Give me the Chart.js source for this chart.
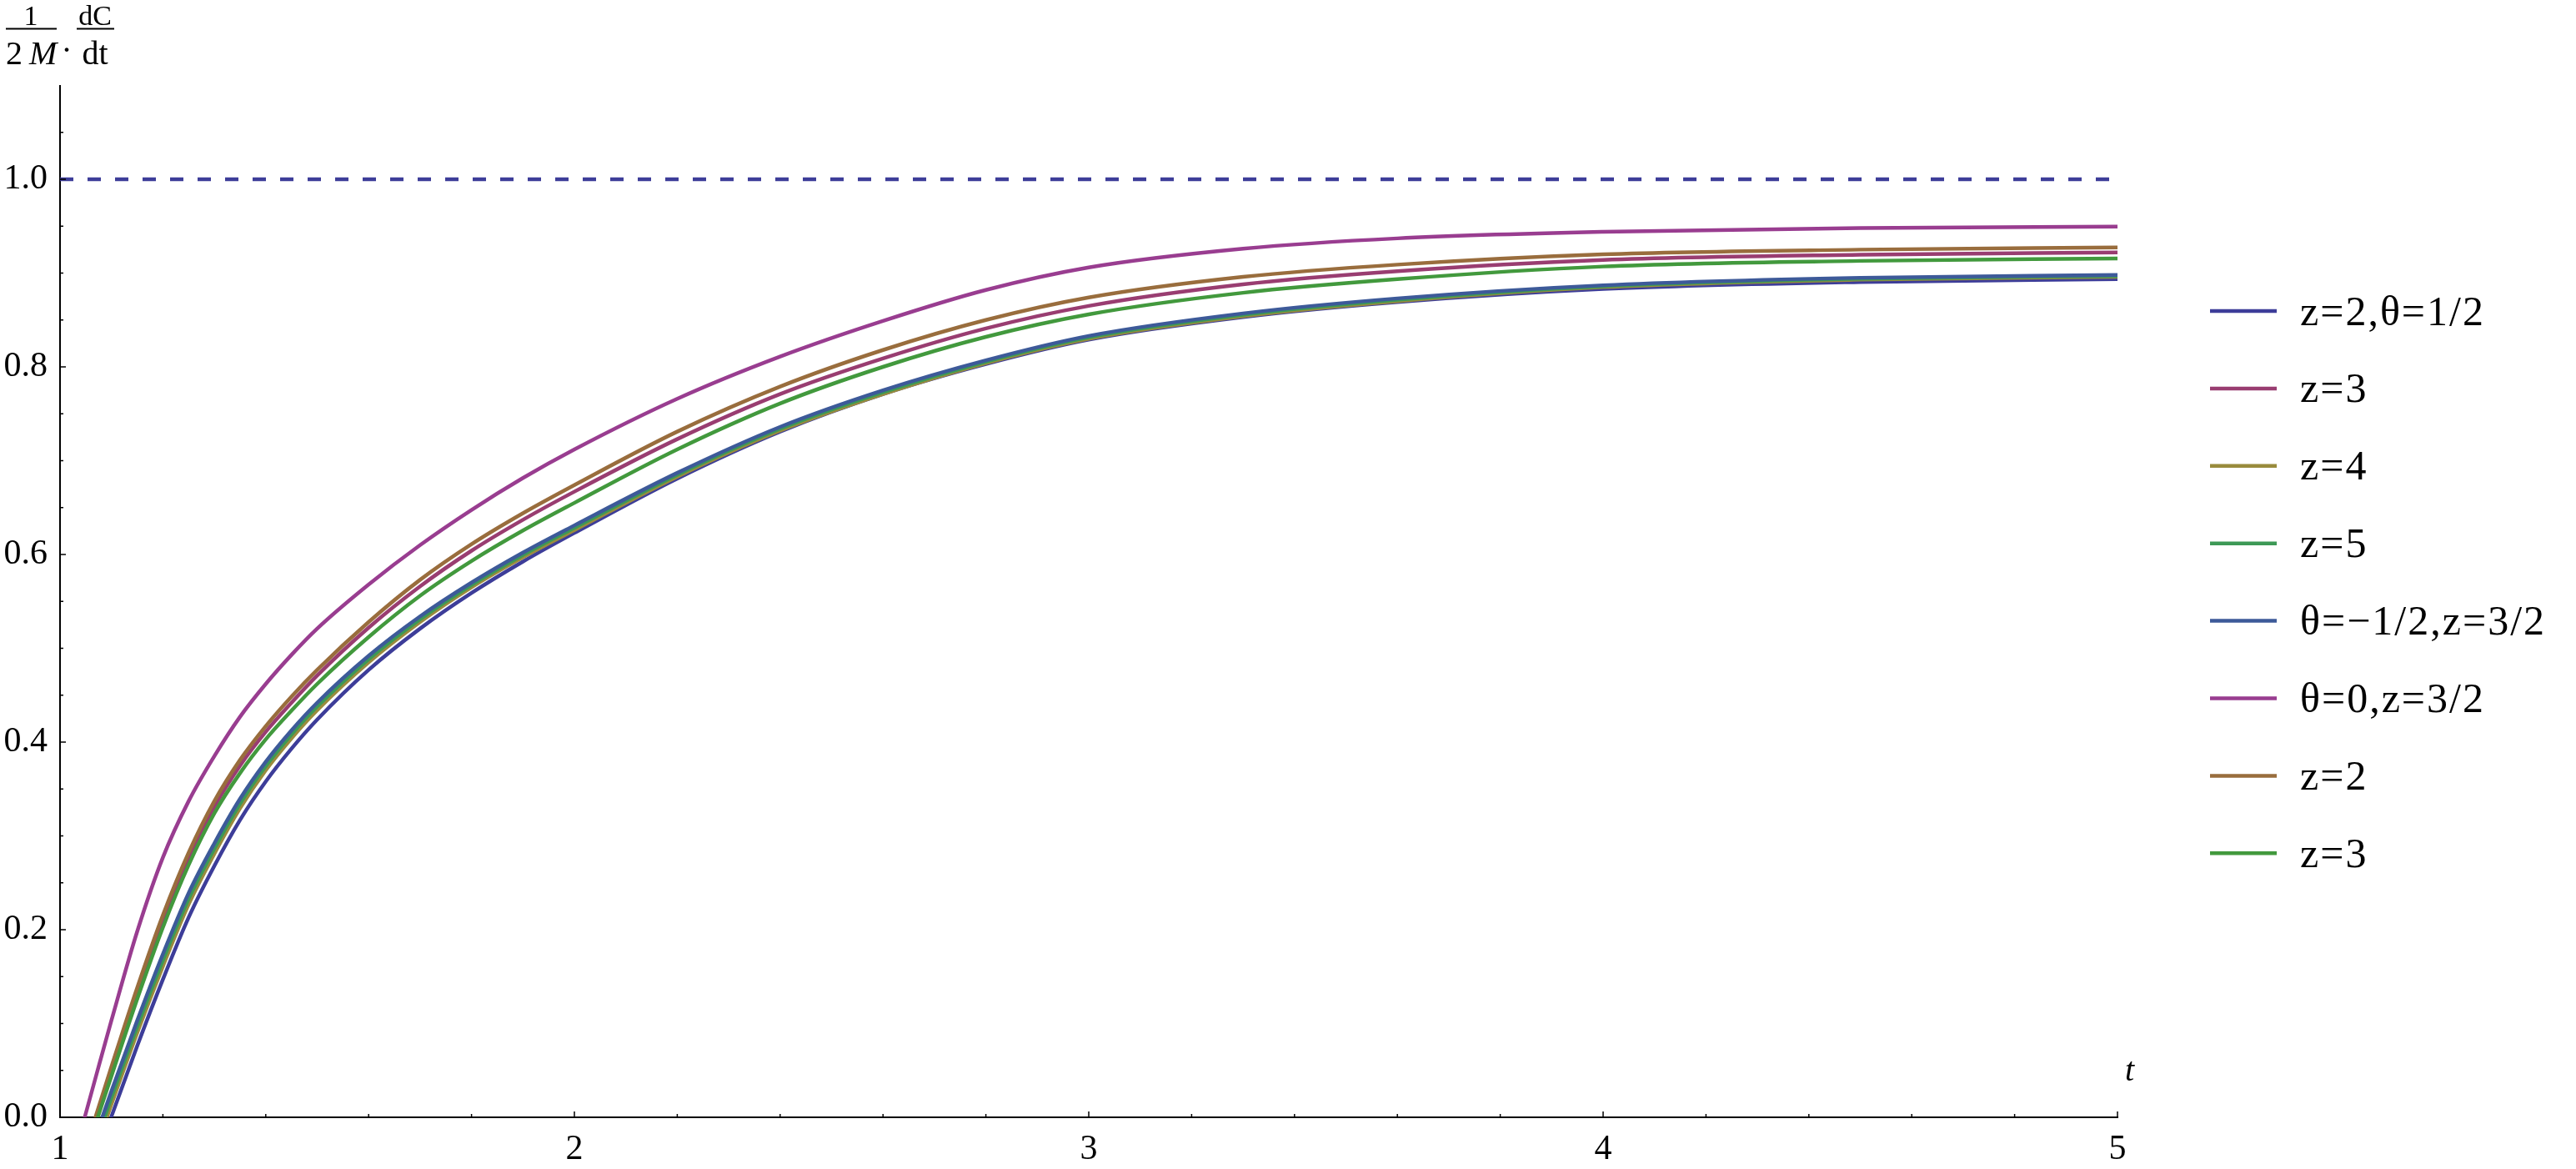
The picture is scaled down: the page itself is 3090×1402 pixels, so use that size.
<!DOCTYPE html>
<html>
<head>
<meta charset="utf-8">
<script src="https://cdn.jsdelivr.net/npm/chart.js@4.4.1/dist/chart.umd.min.js"></script>
<style>
  html, body { margin: 0; padding: 0; background: #fff; }
  #wrap { width: 3090px; height: 1402px; }
</style>
</head>
<body>
<div id="wrap"><canvas id="chart" width="3090" height="1402"></canvas></div>
<script>
// 時間格點 (t)
const T = [1.04, 1.07, 1.1, 1.15, 1.2, 1.25, 1.3, 1.35, 1.4, 1.45, 1.5, 1.6, 1.7, 1.8, 1.9, 2.0, 2.2, 2.4, 2.6, 2.8, 3.0, 3.3, 3.6, 4.0, 4.5, 5.0];

// 各曲線 (1/2M)·dC/dt，負值部分會被繪圖區裁掉
const S_Z2_TH12 = [-0.094, -0.046, 0.001, 0.076, 0.147, 0.213, 0.268, 0.317, 0.358, 0.393, 0.424, 0.477, 0.521, 0.559, 0.5925, 0.623, 0.681, 0.731, 0.771, 0.803, 0.829, 0.853, 0.869, 0.883, 0.8905, 0.8935];
const S_Z3 = [-0.057, -0.003, 0.049, 0.132, 0.2095, 0.276, 0.331, 0.375, 0.411, 0.442, 0.471, 0.522, 0.566, 0.604, 0.637, 0.667, 0.723, 0.771, 0.809, 0.841, 0.865, 0.888, 0.902, 0.914, 0.9195, 0.922];
const S_Z4 = [-0.081, -0.033, 0.014, 0.090, 0.161, 0.227, 0.281, 0.3295, 0.370, 0.404, 0.434, 0.485, 0.528, 0.565, 0.597, 0.626, 0.683, 0.732, 0.771, 0.804, 0.830, 0.854, 0.870, 0.885, 0.893, 0.896];
const S_Z5 = [-0.074, -0.026, 0.021, 0.0965, 0.1675, 0.233, 0.2865, 0.3345, 0.3745, 0.40825, 0.438, 0.4885, 0.531, 0.5675, 0.5995, 0.6285, 0.685, 0.734, 0.773, 0.8055, 0.8315, 0.8555, 0.8715, 0.886, 0.894, 0.897];
const S_THM12 = [-0.067, -0.019, 0.028, 0.103, 0.174, 0.239, 0.292, 0.3395, 0.379, 0.4125, 0.442, 0.492, 0.534, 0.570, 0.602, 0.631, 0.687, 0.736, 0.775, 0.807, 0.833, 0.857, 0.873, 0.887, 0.895, 0.898];
const S_TH0 = [-0.016, 0.044, 0.1034, 0.198, 0.277, 0.337, 0.385, 0.427, 0.462, 0.493, 0.521, 0.568, 0.610, 0.6475, 0.6815, 0.712, 0.766, 0.811, 0.849, 0.882, 0.906, 0.926, 0.937, 0.944, 0.948, 0.9496];
const S_B_Z2 = [-0.052, 0.002, 0.054, 0.138, 0.2155, 0.282, 0.337, 0.381, 0.417, 0.4485, 0.477, 0.528, 0.573, 0.611, 0.644, 0.674, 0.731, 0.779, 0.818, 0.850, 0.874, 0.896, 0.909, 0.920, 0.925, 0.9274];
const S_B_Z3 = [-0.060, -0.006, 0.044, 0.126, 0.2025, 0.269, 0.324, 0.367, 0.403, 0.4335, 0.462, 0.512, 0.556, 0.593, 0.6255, 0.655, 0.712, 0.761, 0.800, 0.832, 0.856, 0.879, 0.8935, 0.907, 0.913, 0.9156];

const SERIES = [S_Z2_TH12, S_Z3, S_Z4, S_Z5, S_THM12, S_TH0, S_B_Z2, S_B_Z3];
const LABELS = ['z=2,θ=1/2', 'z=3', 'z=4', 'z=5', 'θ=−1/2,z=3/2', 'θ=0,z=3/2', 'z=2', 'z=3'];
const COLORS = ['#3d3d99', '#993d71', '#998b3d', '#3d9956', '#3d5a99', '#993d90', '#996d3d', '#42993d'];

// 漸近線
const REF_LEVEL = 1.0;
const REF_COLOR = '#3d3d99';

// 座標軸刻度
const X_MIN = 1, X_MAX = 5;
const Y_MIN = 0, Y_MAX = 1.1;
const X_TICKS = [1, 2, 3, 4, 5];
const Y_TICKS = [0, 0.2, 0.4, 0.6, 0.8, 1.0];
const X_MINOR = [1.2, 1.4, 1.6, 1.8, 2.2, 2.4, 2.6, 2.8, 3.2, 3.4, 3.6, 3.8, 4.2, 4.4, 4.6, 4.8];
const Y_MINOR = [0.05, 0.1, 0.15, 0.25, 0.3, 0.35, 0.45, 0.5, 0.55, 0.65, 0.7, 0.75, 0.85, 0.9, 0.95, 1.05];

const SERIF = '"Liberation Serif", "Times New Roman", serif';

// 向內的主/次刻度
const innerTicks = {
  id: 'innerTicks',
  afterDatasetsDraw(chart) {
    const { ctx, chartArea } = chart;
    const { x, y } = chart.scales;
    ctx.save();
    ctx.strokeStyle = '#000';
    ctx.lineWidth = 1.5;
    const tick = (x0, y0, x1, y1) => {
      ctx.beginPath();
      ctx.moveTo(x0, y0);
      ctx.lineTo(x1, y1);
      ctx.stroke();
    };
    X_TICKS.forEach(v => { const p = x.getPixelForValue(v); tick(p, chartArea.bottom, p, chartArea.bottom - 7); });
    X_MINOR.forEach(v => { const p = x.getPixelForValue(v); tick(p, chartArea.bottom, p, chartArea.bottom - 4); });
    Y_TICKS.forEach(v => { const p = y.getPixelForValue(v); tick(chartArea.left, p, chartArea.left + 7, p); });
    Y_MINOR.forEach(v => { const p = y.getPixelForValue(v); tick(chartArea.left, p, chartArea.left + 4, p); });
    ctx.restore();
  }
};

// 軸標題：1/(2M) . dC/dt 以及 t
const axisTitles = {
  id: 'axisTitles',
  afterDraw(chart) {
    const { ctx, chartArea } = chart;
    ctx.save();
    ctx.fillStyle = '#000';
    ctx.strokeStyle = '#000';
    ctx.textBaseline = 'alphabetic';

    ctx.textAlign = 'center';
    ctx.font = '34px ' + SERIF;
    ctx.fillText('1', 37, 30);
    ctx.fillText('dC', 114, 30);

    ctx.lineWidth = 2;
    ctx.beginPath();
    ctx.moveTo(7, 34.5); ctx.lineTo(68, 34.5);
    ctx.moveTo(92, 34.5); ctx.lineTo(137, 34.5);
    ctx.stroke();

    ctx.textAlign = 'left';
    ctx.font = '40px ' + SERIF;
    ctx.fillText('2', 7, 77);
    ctx.font = 'italic 40px ' + SERIF;
    ctx.fillText('M', 35, 77);
    ctx.font = '40px ' + SERIF;
    ctx.fillText('.', 75, 62);
    ctx.textAlign = 'center';
    ctx.fillText('dt', 114, 77);

    ctx.textAlign = 'left';
    ctx.font = 'italic 40px ' + SERIF;
    ctx.fillText('t', chartArea.right + 9, 1296);
    ctx.restore();
  }
};

// 右側圖例
const sideLegend = {
  id: 'sideLegend',
  afterDraw(chart) {
    const { ctx, chartArea } = chart;
    const lineX = chartArea.right + 111;
    const textX = chartArea.right + 219;
    ctx.save();
    ctx.textAlign = 'left';
    ctx.textBaseline = 'alphabetic';
    LABELS.forEach((label, i) => {
      const rowY = 373 + i * 92.9;
      ctx.strokeStyle = COLORS[i];
      ctx.lineWidth = 4.5;
      ctx.beginPath();
      ctx.moveTo(lineX, rowY);
      ctx.lineTo(lineX + 80, rowY);
      ctx.stroke();
      ctx.fillStyle = '#000';
      ctx.font = '50px ' + SERIF;
      ctx.letterSpacing = '2px';
      ctx.fillText(label, textX, rowY + 16.5);
    });
    ctx.restore();
  }
};

const datasets = SERIES.map((vals, i) => ({
  label: LABELS[i],
  data: T.map((t, k) => ({ x: t, y: vals[k] })),
  borderColor: COLORS[i],
  backgroundColor: COLORS[i],
  borderWidth: 4.5,
  pointRadius: 0,
  fill: false,
  cubicInterpolationMode: 'monotone',
  order: -i
}));

datasets.push({
  label: 'asymptote',
  data: [{ x: X_MIN, y: REF_LEVEL }, { x: X_MAX, y: REF_LEVEL }],
  borderColor: REF_COLOR,
  borderWidth: 4.5,
  borderDash: [16, 17],
  pointRadius: 0,
  fill: false,
  order: 10
});

const tickFont = { family: SERIF, size: 42 };

new Chart(document.getElementById('chart'), {
  type: 'line',
  data: { datasets },
  options: {
    responsive: false,
    animation: false,
    events: [],
    layout: { padding: { left: 0, right: 550, top: 102.5, bottom: 0 } },
    plugins: {
      legend: { display: false },
      tooltip: { enabled: false }
    },
    scales: {
      x: {
        type: 'linear',
        min: X_MIN,
        max: X_MAX,
        grid: { display: false, drawTicks: false },
        border: { display: true, color: '#000', width: 2 },
        afterBuildTicks: s => { s.ticks = X_TICKS.map(v => ({ value: v })); },
        afterFit: s => { s.height = 62; },
        ticks: {
          font: tickFont,
          color: '#000',
          padding: 14,
          maxRotation: 0,
          autoSkip: false,
          callback: v => String(v)
        }
      },
      y: {
        type: 'linear',
        min: Y_MIN,
        max: Y_MAX,
        grid: { display: false, drawTicks: false },
        border: { display: true, color: '#000', width: 2 },
        afterBuildTicks: s => { s.ticks = Y_TICKS.map(v => ({ value: v })); },
        afterFit: s => { s.width = 72; },
        ticks: {
          font: tickFont,
          color: '#000',
          padding: 15,
          callback: v => v.toFixed(1)
        }
      }
    }
  },
  plugins: [innerTicks, axisTitles, sideLegend]
});
</script>
</body>
</html>
